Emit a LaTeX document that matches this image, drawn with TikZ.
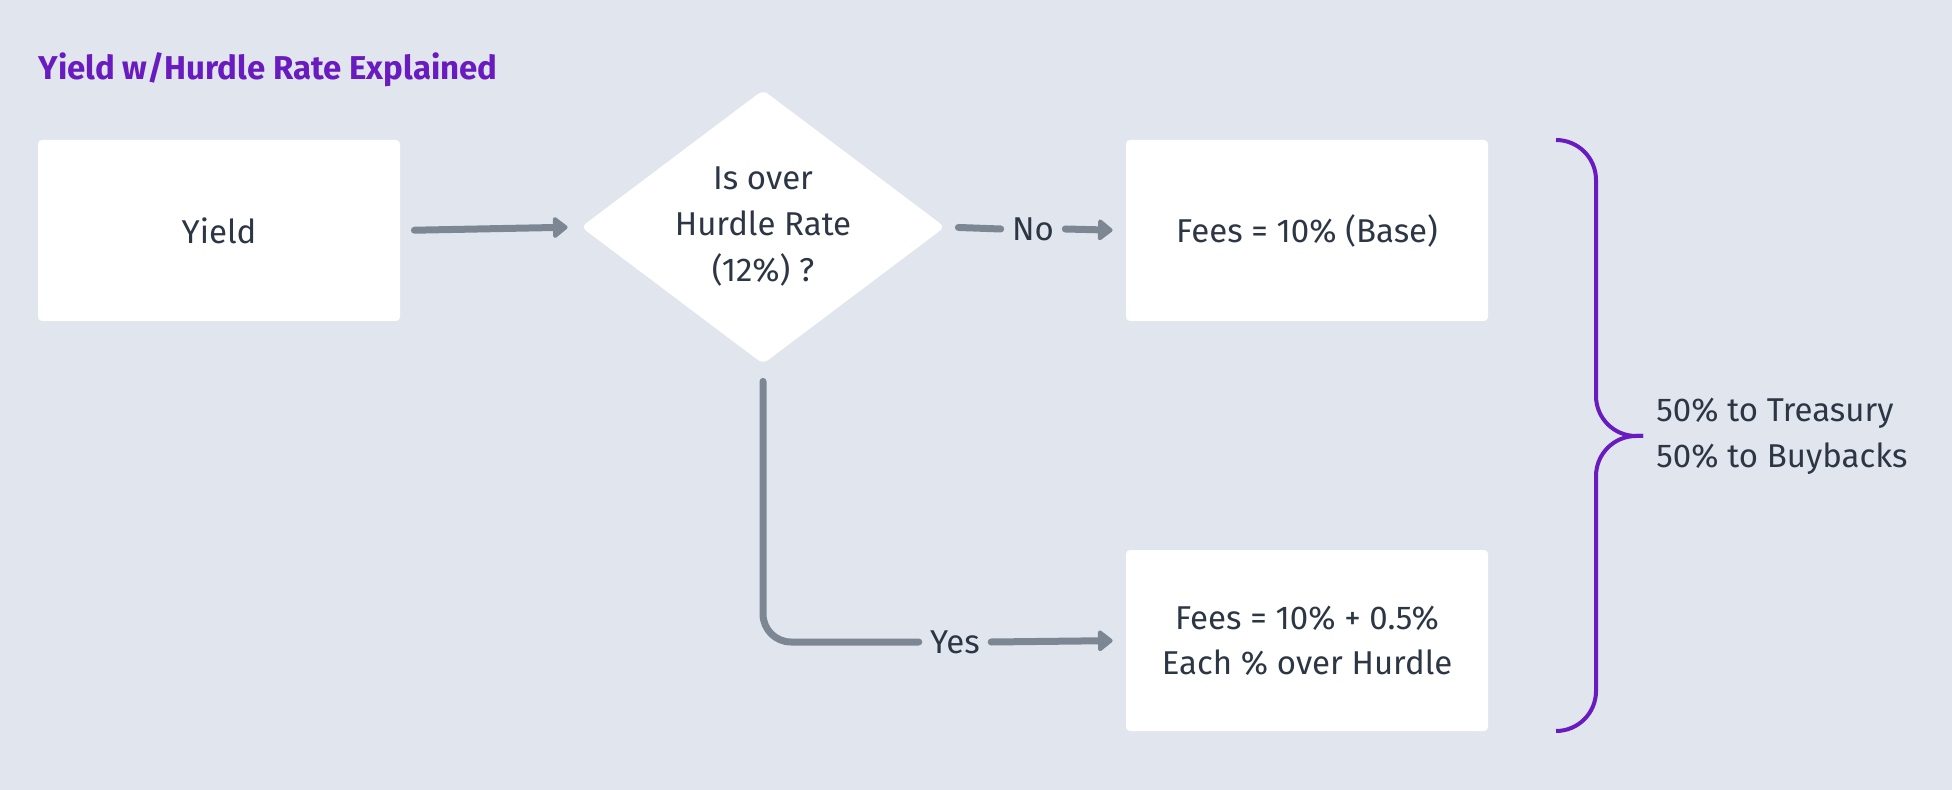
\documentclass[tikz,border=0pt]{standalone}
\usepackage{fontspec}
\setmainfont{Fira Sans}
\usetikzlibrary{shapes.geometric,arrows.meta}

\definecolor{bgblue}{RGB}{225,230,238}
\definecolor{inkgray}{RGB}{44,54,68}
\definecolor{flowgray}{RGB}{125,135,148}
\definecolor{hurdlepurple}{RGB}{106,27,191}

\begin{document}
\begin{tikzpicture}[x=0.5pt,y=-0.5pt,
	card/.style={fill=white, rounded corners=2pt, minimum width=181pt, minimum height=90.5pt, inner sep=0pt, text=inkgray, align=center, font=\fontsize{16.5}{22.5}\selectfont},
	decision/.style={diamond, aspect=1.34, fill=white, rounded corners=3pt, minimum width=182pt, minimum height=137pt, inner sep=0pt, text=inkgray, align=center, font=\fontsize{16.5}{23}\selectfont},
	link/.style={draw=flowgray, line width=3.5pt, line cap=round},
	flow/.style={link, -{Triangle[length=8pt,width=12pt,round]}, shorten >=6.5pt},
	lbl/.style={text=inkgray, inner xsep=5.5pt, inner ysep=1pt, font=\fontsize{16.5}{20}\selectfont},
	bracket/.style={draw=hurdlepurple, line width=2pt, rounded corners=20pt}]
	\fill[bgblue] (0,0) rectangle (1952,790);

	\node[anchor=base west, inner sep=0pt, text=hurdlepurple, font=\fontsize{16.5}{20}\selectfont\bfseries] (title) at (38,80) {Yield w/Hurdle Rate Explained};

	\node[card] (yield) at (219,230.5) {Yield};
	\node[decision] (dec) at (763,227) {Is over\\Hurdle Rate\\(12\%) ?};
	\node[card] (feebase) at (1307,230.5) {Fees = 10\% (Base)};
	\node[card] (feeplus) at (1307,640.5) {Fees = 10\% + 0.5\%\\Each \% over Hurdle};

	\node[lbl] (no) at (1033,229) {No};
	\node[lbl] (yes) at (955,642) {Yes};

	\draw[flow, shorten <=7pt] (yield.east) -- (dec.west);
	\draw[link, shorten <=6.5pt] (dec.east) -- (no.west);
	\draw[flow] (no.east) -- (feebase.west);
	\draw[link, rounded corners=14pt, shorten <=8.5pt] (dec.south) |- (yes.west);
	\draw[flow] (yes.east) -- (feeplus.west);

	\coordinate (tip) at (1643,436);
	\foreach \ends in {140,731}{
		\draw[bracket] (1556,\ends) -| (1596,436) -- (tip);
	}
	\node[anchor=west, align=left, inner sep=0pt, text=inkgray, font=\fontsize{16.5}{23}\selectfont] (split) at (1656,436) {50\% to Treasury\\50\% to Buybacks};
\end{tikzpicture}
\end{document}
